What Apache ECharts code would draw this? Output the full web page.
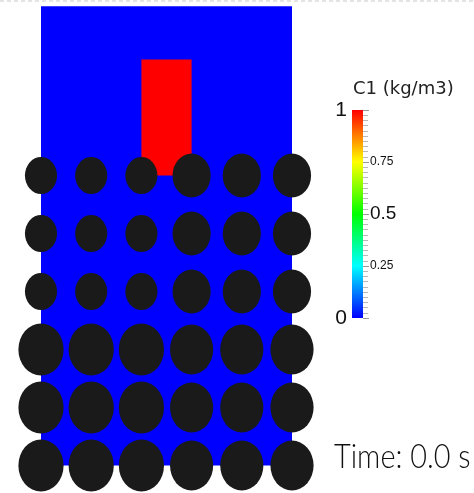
<!DOCTYPE html>
<html>
<head>
<meta charset="utf-8">
<script src="https://cdn.jsdelivr.net/npm/echarts@6/dist/echarts.min.js"></script>
<style>
  html, body { margin: 0; padding: 0; background: #ffffff; }
  #chart { width: 474px; height: 493px; }
</style>
</head>
<body>
<div id="chart"></div>
<script>
// Domain geometry (model units)
const fluidBox = [0, 25, 0, 39.6];        // x0, x1, y0, y1
const tracerBlock = [10, 15, 25, 35];     // x0, x1, y0, y1
const tracerValue = 1;                    // C1 inside the block
const fluidValue = 0;                     // C1 elsewhere

// Particle lattice: column centres, row centres (top to bottom), diameters
const columnX = [0, 5, 10, 15, 20, 25];
const rowY = [25, 20, 15, 10, 5, 0];
const particleDiameter = [
  [3.2, 3.2, 3.2, 3.8, 3.8, 3.8],
  [3.2, 3.2, 3.2, 3.8, 3.8, 3.8],
  [3.2, 3.2, 3.2, 3.8, 3.8, 3.8],
  [4.5, 4.5, 4.5, 4.3, 4.3, 4.3],
  [4.5, 4.5, 4.5, 4.3, 4.3, 4.3],
  [4.5, 4.5, 4.5, 4.3, 4.3, 4.3]
];

// Colour legend
const legendTitle = 'C1 (kg/m3)';
const legendRange = [0, 1];
const legendTicks = [0, 0.25, 0.5, 0.75, 1];
const rainbowStops = ['#0000ff', '#00ffff', '#00ff00', '#ffff00', '#ff0000'];
const timeLabel = 'Time: 0.0 s';

// Map a concentration onto the rainbow colour map
function colorFor(v) {
  const t = (v - legendRange[0]) / (legendRange[1] - legendRange[0]);
  const idx = Math.min(rainbowStops.length - 1, Math.round(t * (rainbowStops.length - 1)));
  return rainbowStops[idx];
}

const particles = [];
rowY.forEach((y, r) => {
  columnX.forEach((x, c) => {
    particles.push([x, y, particleDiameter[r][c]]);
  });
});

const regions = [
  fluidBox.concat([fluidValue]),
  tracerBlock.concat([tracerValue])
];

const chart = echarts.init(document.getElementById('chart'), null, { renderer: 'canvas' });

const labelFont = "'Liberation Sans Narrow', 'Liberation Sans', sans-serif";

chart.setOption({
  animation: false,
  backgroundColor: '#ffffff',
  title: {
    text: legendTitle,
    left: 348,
    top: 75,
    textStyle: {
      fontFamily: "'DejaVu Sans', sans-serif",
      fontWeight: 'normal',
      fontSize: 18,
      color: '#222222'
    }
  },
  grid: [
    { left: 41, top: 1.5, width: 251, height: 464 },
    { left: 352, top: 110, width: 11, height: 208 }
  ],
  xAxis: [
    { gridIndex: 0, type: 'value', min: 0, max: 25, show: false },
    { gridIndex: 1, type: 'value', min: 0, max: 1, show: false }
  ],
  yAxis: [
    { gridIndex: 0, type: 'value', min: 0, max: 40, show: false },
    {
      gridIndex: 1, type: 'value', position: 'right',
      min: legendRange[0], max: legendRange[1], interval: 0.25,
      z: 5,
      axisLine: { show: true, onZero: false, lineStyle: { color: 'rgba(0,0,0,0)', width: 0 } },
      splitLine: { show: false },
      axisTick: { show: true, inside: false, length: 6, lineStyle: { color: '#9a9a9a', width: 1 } },
      minorTick: { show: true, splitNumber: 10, length: 5, lineStyle: { color: '#b8b8b8', width: 1 } },
      axisLabel: {
        margin: 7,
        color: '#111111',
        fontFamily: labelFont,
        formatter: v => {
          if (!legendTicks.includes(v) || v === legendRange[0] || v === legendRange[1]) return '';
          return v === 0.5 ? '{b|' + v + '}' : '{s|' + v + '}';
        },
        rich: {
          s: { fontSize: 12, fontFamily: labelFont, color: '#111111' },
          b: { fontSize: 19, fontFamily: labelFont, color: '#111111' }
        }
      }
    },
    {
      gridIndex: 1, type: 'value', position: 'left',
      min: legendRange[0], max: legendRange[1], interval: 0.25,
      axisLine: { show: false, onZero: false },
      splitLine: { show: false },
      axisTick: { show: false },
      axisLabel: {
        margin: 5,
        fontSize: 21,
        color: '#111111',
        fontFamily: labelFont,
        formatter: v => (v === legendRange[0] || v === legendRange[1]) ? String(v) : ''
      }
    }
  ],
  series: [
    {
      // fluid domain and tracer block
      type: 'custom',
      xAxisIndex: 0, yAxisIndex: 0,
      clip: false,
      silent: true,
      data: regions,
      renderItem: (params, api) => {
        const p0 = api.coord([api.value(0), api.value(3)]);
        const p1 = api.coord([api.value(1), api.value(2)]);
        return {
          type: 'rect',
          shape: { x: p0[0], y: p0[1], width: p1[0] - p0[0], height: p1[1] - p0[1] },
          style: { fill: colorFor(api.value(4)) }
        };
      }
    },
    {
      // solid particles
      type: 'custom',
      xAxisIndex: 0, yAxisIndex: 0,
      clip: false,
      silent: true,
      data: particles,
      renderItem: (params, api) => {
        const c = api.coord([api.value(0), api.value(1)]);
        const s = api.size([api.value(2), api.value(2)]);
        return {
          type: 'circle',
          x: c[0], y: c[1],
          scaleY: s[1] / s[0],
          shape: { cx: 0, cy: 0, r: s[0] / 2 },
          style: { fill: '#1a1a1a' }
        };
      }
    },
    {
      // colour bar
      type: 'custom',
      xAxisIndex: 1, yAxisIndex: 1,
      clip: false,
      silent: true,
      z: 1,
      data: [[0, 1, legendRange[0], legendRange[1]]],
      renderItem: (params, api) => {
        const p0 = api.coord([api.value(0), api.value(3)]);
        const p1 = api.coord([api.value(1), api.value(2)]);
        return {
          type: 'rect',
          shape: { x: p0[0], y: p0[1], width: p1[0] - p0[0], height: p1[1] - p0[1] },
          style: {
            fill: {
              type: 'linear', x: 0, y: 1, x2: 0, y2: 0,
              colorStops: rainbowStops.map((c, i) => ({ offset: i / (rainbowStops.length - 1), color: c }))
            }
          }
        };
      }
    }
  ],
  graphic: [
    {
      type: 'line',
      silent: true,
      shape: { x1: 0, y1: 1, x2: 474, y2: 1 },
      style: { stroke: '#e4e4e4', lineWidth: 2, lineDash: [4, 3] }
    },
    {
      type: 'text',
      silent: true,
      x: 334, y: 440,
      scaleX: 0.85,
      style: {
        text: timeLabel,
        font: "300 34px Lato, 'Liberation Sans', sans-serif",
        fill: '#111111'
      }
    }
  ]
});
</script>
</body>
</html>
